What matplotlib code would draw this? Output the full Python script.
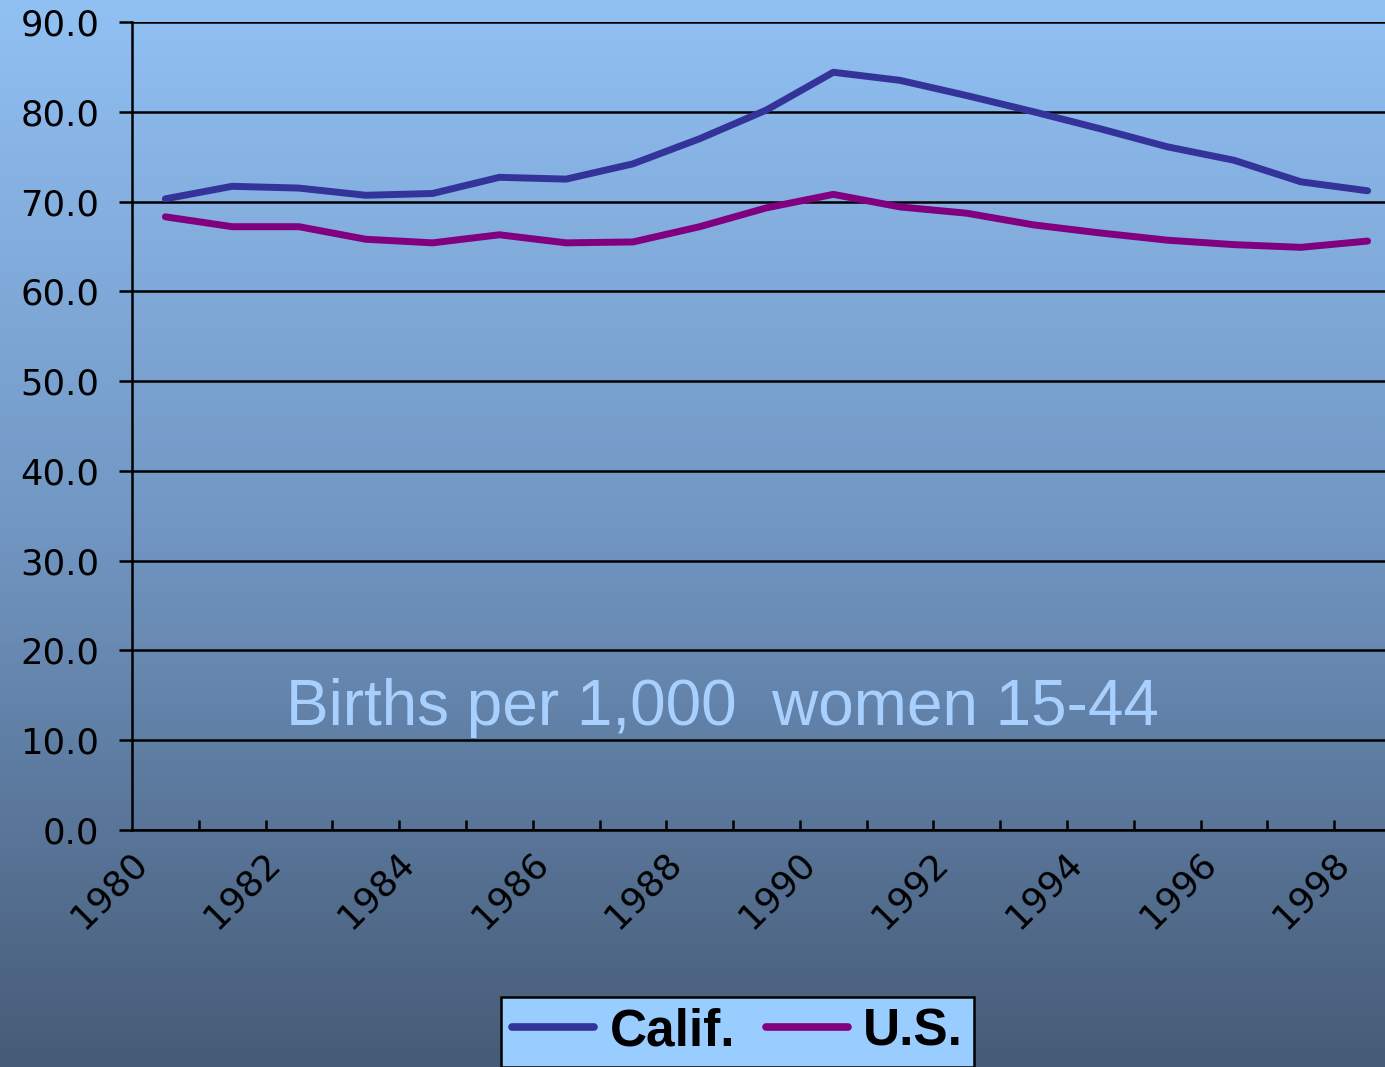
import numpy as np
import matplotlib
matplotlib.use('Agg')
import matplotlib.pyplot as plt
import matplotlib.transforms as mtransforms
from matplotlib.colors import LinearSegmentedColormap

years = list(range(1980, 1999))
calif = [70.3, 71.7, 71.5, 70.7, 70.9, 72.7, 72.5, 74.2, 77.0, 80.2,
         84.4, 83.5, 81.8, 80.0, 78.1, 76.1, 74.6, 72.2, 71.2]
us = [68.3, 67.2, 67.2, 65.8, 65.4, 66.3, 65.4, 65.5, 67.2, 69.3,
      70.8, 69.4, 68.7, 67.4, 66.5, 65.7, 65.2, 64.9, 65.6]
series_names = ['Calif.', 'U.S.']
label_years = years[::2]
y_ticks = np.arange(0, 91, 10)
note = 'Births per 1,000  women 15-44'

W, H = 1385, 1067
fig = plt.figure(figsize=(W / 100, H / 100), dpi=100)

# background gradient
bg = fig.add_axes([0, 0, 1, 1], zorder=-10)
cmap = LinearSegmentedColormap.from_list('bg', ['#91c0f3', '#7196c2', '#465b77'])
grad = np.linspace(0, 1, 256).reshape(-1, 1)
bg.imshow(grad, aspect='auto', cmap=cmap, extent=[0, 1, 0, 1])
bg.axis('off')

# plot area (extends past right edge like the original)
ax = fig.add_axes([132 / W, 1 - 830 / H, (1401 - 132) / W, 808 / H])
ax.set_facecolor('none')
x = np.arange(len(years))
ax.plot(x, calif, color='#333399', lw=5, solid_capstyle='round', label=series_names[0], zorder=3)
ax.plot(x, us, color='#800080', lw=5, solid_capstyle='round', label=series_names[1], zorder=3)

ax.set_xlim(-0.5, len(years) - 0.5)
ax.set_ylim(0, 90)
ax.set_yticks(y_ticks)
ax.set_yticklabels([f'{v:.1f}' for v in y_ticks])
ax.yaxis.grid(True, color='black', lw=1.8)
ax.set_axisbelow(True)
for s in ['top', 'right']:
    ax.spines[s].set_visible(False)
for s in ['left', 'bottom']:
    ax.spines[s].set_linewidth(1.8)
    ax.spines[s].set_color('black')

ax.tick_params(axis='y', direction='out', length=9.5, width=1.8, pad=14, labelsize=25.5)
lab_idx = [years.index(v) for v in label_years]
ax.set_xticks(lab_idx)
ax.set_xticklabels([str(v) for v in label_years], rotation=45, ha='right',
                   va='center', rotation_mode='anchor', fontsize=26)
ax.set_xticks(np.arange(0.5, len(years) - 1, 1.0), minor=True)
ax.tick_params(axis='x', which='major', length=0, pad=20)
ax.tick_params(axis='x', which='minor', direction='in', length=7, width=1.8)
off = mtransforms.ScaledTranslation(-0.24, 0, fig.dpi_scale_trans)
for lab in ax.get_xticklabels():
    lab.set_transform(lab.get_transform() + off)

fig.text(722 / W, 1 - 708 / H, note, ha='center', va='center', fontsize=46,
         color='#a8d0ff', family='Liberation Sans')

leg = fig.legend(loc='upper center', bbox_to_anchor=(737.5 / W, 1 - 997 / H), ncol=2,
                 frameon=True, fancybox=False, framealpha=1, facecolor='#99ccff',
                 edgecolor='black', handlelength=1.6, handletextpad=0.3,
                 columnspacing=0.6, borderpad=0.2, borderaxespad=0,
                 prop={'family': 'Liberation Sans', 'weight': 'bold', 'size': 37})
leg.get_frame().set_linewidth(1.8)
for h in leg.get_lines():
    h.set_linewidth(5.5)

fig.savefig('out.png', dpi=100)
